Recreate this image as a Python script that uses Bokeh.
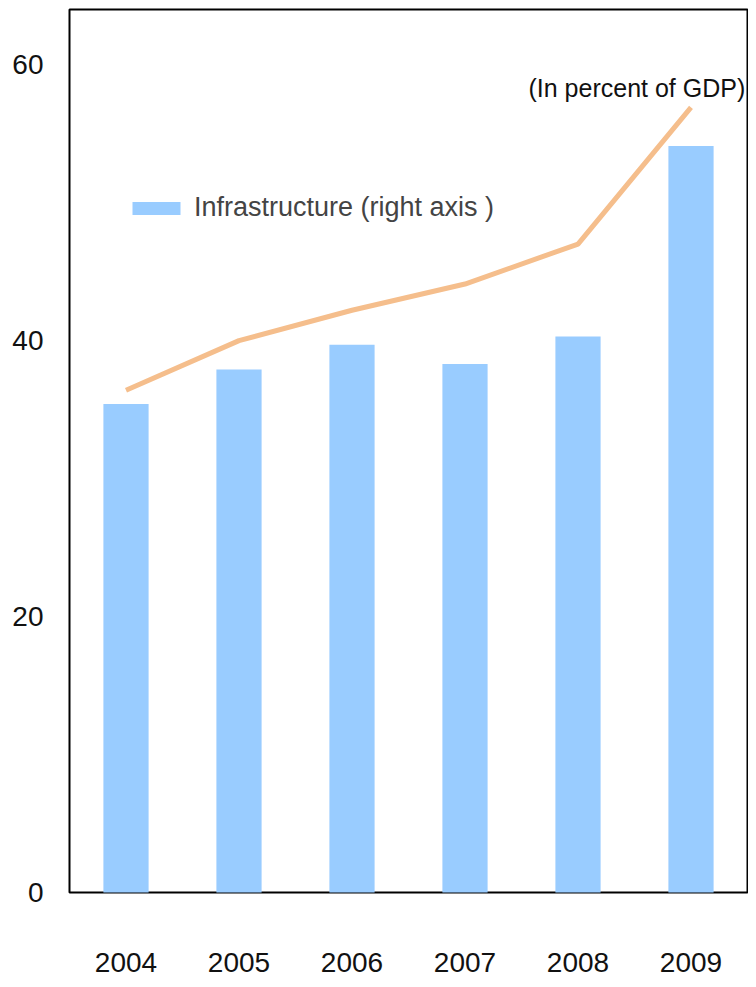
from bokeh.plotting import figure
from bokeh.models import ColumnDataSource, FixedTicker, Legend, LegendItem, Label, Range1d
from bokeh.embed import file_html
from bokeh.resources import INLINE

years = ["2004", "2005", "2006", "2007", "2008", "2009"]
infrastructure = [35.4, 37.9, 39.7, 38.3, 40.3, 54.1]
total_line = [36.4, 40.0, 42.2, 44.1, 47.0, 56.9]
y_ticks = [0, 20, 40, 60]

FONT = "Liberation Sans"

src = ColumnDataSource(dict(year=years, infra=infrastructure, line=total_line))

p = figure(width=748, height=979, x_range=years, y_range=Range1d(0, 64),
           output_backend="svg", toolbar_location=None,
           min_border_left=69, min_border_right=1, min_border_top=9, min_border_bottom=87)
p.background_fill_color = "white"
p.border_fill_color = "white"
p.outline_line_color = "black"
p.outline_line_width = 2
p.grid.visible = False

bars = p.vbar(x="year", top="infra", width=0.4, source=src, fill_color="#99CCFF",
              line_color=None, level="overlay")
p.line(x="year", y="line", source=src, line_color="#F5BE8C", line_width=5)

p.yaxis.ticker = FixedTicker(ticks=y_ticks)
for ax in (p.xaxis[0], p.yaxis[0]):
    ax.axis_line_color = None
    ax.major_tick_line_color = None
    ax.minor_tick_line_color = None
    ax.major_tick_out = 0
    ax.major_tick_in = 0
    ax.minor_tick_out = 0
    ax.major_label_text_font = FONT
    ax.major_label_text_font_size = "28px"
    ax.major_label_text_color = "#111111"
p.yaxis.major_label_standoff = 26
p.xaxis.major_label_standoff = 60

legend = Legend(items=[LegendItem(label="Infrastructure (right axis )", renderers=[bars])],
                location=(57, 669), padding=0, margin=0, glyph_width=60, glyph_height=16,
                label_text_font=FONT, label_text_font_size="27px", label_standoff=8,
                background_fill_alpha=0, border_line_color=None)
p.add_layout(legend, "center")

p.add_layout(Label(x=459, y=791, x_units="screen", y_units="screen",
                   text="(In percent of GDP)", text_font=FONT, text_font_size="25px",
                   text_color="#111111"))

open("out.html", "w").write(file_html(p, INLINE))
